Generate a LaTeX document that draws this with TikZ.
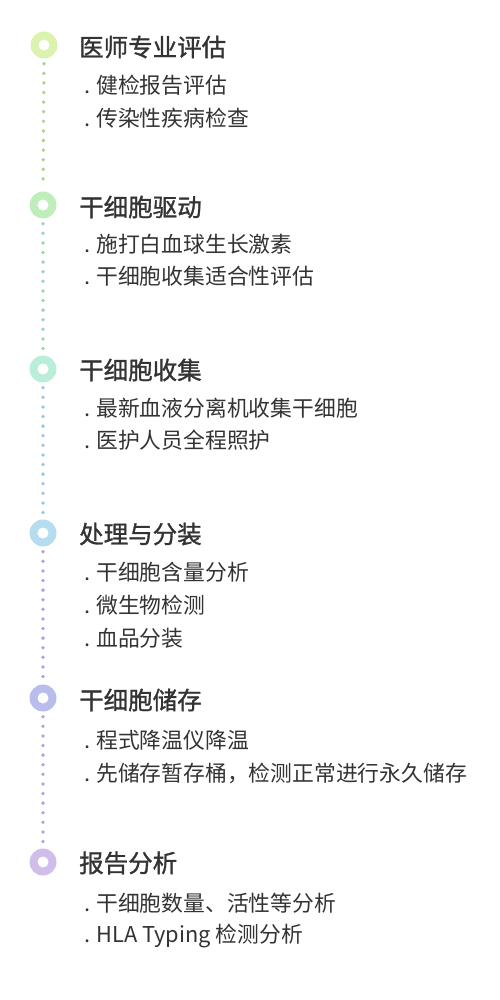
\documentclass[tikz,border=0pt]{standalone}
\usepackage{fontspec}
\setmainfont{Noto Sans CJK SC}
\newfontfamily\titlefont[FakeBold=1.2]{Noto Sans CJK SC}
\definecolor{cA}{HTML}{DBF3AF}
\definecolor{cB}{HTML}{BFEEBA}
\definecolor{cC}{HTML}{BAEED8}
\definecolor{cD}{HTML}{B5DCEF}
\definecolor{cE}{HTML}{B9BDEC}
\definecolor{cF}{HTML}{D0BDEA}
\definecolor{dA}{HTML}{A6D68A}
\definecolor{dB}{HTML}{98D6AE}
\definecolor{dC}{HTML}{98C8E2}
\definecolor{dD}{HTML}{A2A8DE}
\definecolor{dE}{HTML}{B6A2DC}
\definecolor{txt}{HTML}{333333}
\tikzset{
  ring/.style={circle, fill=#1, minimum size=27pt, inner sep=0pt, path picture={\fill[white] (path picture bounding box.center) circle (5.5pt);}},
  dots/.style={draw=#1, line width=3.8pt, line cap=round, dash pattern=on 0pt off 9.6pt, shorten <=5pt, shorten >=4pt},
  title/.style={anchor=west, inner sep=0pt, text=txt, font=\fontsize{24.5}{28}\titlefont},
  item/.style={anchor=west, inner sep=0pt, text=txt, font=\fontsize{21.8}{25}\selectfont},
}
\begin{document}
\begin{tikzpicture}[x=1pt,y=-1pt]
\useasboundingbox (0,0) rectangle (500,1000);
\node[ring=cA] (c1) at (44,45) {};
\node[ring=cB] (c2) at (43,205) {};
\node[ring=cC] (c3) at (43,369) {};
\node[ring=cD] (c4) at (43,533) {};
\node[ring=cE] (c5) at (43,698) {};
\node[ring=cF] (c6) at (43,862) {};
\draw[dots=dA] (c1.south) -- (c2.north);
\draw[dots=dB] (c2.south) -- (c3.north);
\draw[dots=dC] (c3.south) -- (c4.north);
\draw[dots=dD] (c4.south) -- (c5.north);
\draw[dots=dE] (c5.south) -- (c6.north);

\node[title] (t1) at (79,47) {医师专业评估};
\node[item] (i11) at (84,85) {.\hspace{6pt}健检报告评估};
\node[item] (i12) at (84,118) {.\hspace{6pt}传染性疾病检查};

\node[title] (t2) at (79,207) {干细胞驱动};
\node[item] (i21) at (84,244) {.\hspace{6pt}施打白血球生长激素};
\node[item] (i22) at (84,276) {.\hspace{6pt}干细胞收集适合性评估};

\node[title] (t3) at (79,370) {干细胞收集};
\node[item] (i31) at (84,408) {.\hspace{6pt}最新血液分离机收集干细胞};
\node[item] (i32) at (84,440) {.\hspace{6pt}医护人员全程照护};

\node[title] (t4) at (79,534) {处理与分装};
\node[item] (i41) at (84,572) {.\hspace{6pt}干细胞含量分析};
\node[item] (i42) at (84,605) {.\hspace{6pt}微生物检测};
\node[item] (i43) at (84,638) {.\hspace{6pt}血品分装};

\node[title] (t5) at (79,700) {干细胞储存};
\node[item] (i51) at (84,740) {.\hspace{6pt}程式降温仪降温};
\node[item] (i52) at (84,773) {.\hspace{6pt}先储存暂存桶，检测正常进行永久储存};

\node[title] (t6) at (79,863) {报告分析};
\node[item] (i61) at (84,903) {.\hspace{6pt}干细胞数量、活性等分析};
\node[item] (i62) at (84,936) {.\hspace{6pt}HLA Typing 检测分析};
\end{tikzpicture}
\end{document}
